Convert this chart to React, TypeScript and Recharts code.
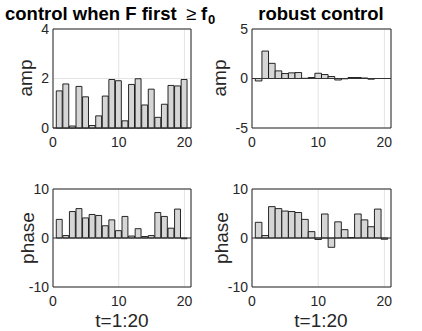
import { ComposedChart, Bar, XAxis, YAxis, CartesianGrid, ReferenceLine, ReferenceArea } from "recharts";

const t = [1, 2, 3, 4, 5, 6, 7, 8, 9, 10, 11, 12, 13, 14, 15, 16, 17, 18, 19, 20];

// control when F first >= f0
const ampFirst = [1.5, 1.78, 0.08, 1.68, 1.26, 0.1, 0.49, 1.29, 1.96, 1.91, 0.29, 1.76, 1.99, 0.93, 1.57, 0.43, 0.96, 1.72, 1.7, 1.96];
const phaseFirst = [3.8, 0.5, 5.4, 6.0, 4.1, 4.8, 4.6, 2.5, 3.7, 1.5, 4.4, 0.4, 1.9, 0.3, 0.5, 5.2, 4.4, 2.0, 5.9, -0.15];

// robust control
const ampRobust = [-0.25, 2.77, 1.53, 0.77, 0.5, 0.57, 0.6, 0.02, 0.1, 0.53, 0.4, 0.2, -0.15, -0.03, 0.1, 0.1, 0.05, -0.07, 0, 0];
const phaseRobust = [3.2, 0.5, 6.4, 6.0, 5.5, 5.4, 5.2, 3.8, 1.3, -0.3, 4.9, -1.9, 3.3, 1.7, 0.1, 4.9, 3.7, 2.3, 5.9, -0.25];

const xTicks = [0, 10, 20];
const ampTicksFirst = [0, 2, 4];
const ampTicksRobust = [-5, 0, 5];
const phaseTicks = [-10, 0, 10];

const FONT = "'Liberation Sans', Arial, Helvetica, sans-serif";
const INK = "#262626";

interface PanelProps {
  values: number[];
  yTicks: number[];
  left: number;
  top: number;
  height: number;
  axisWidth: number;
  right: number;
  bottom: number;
}

function Panel({ values, yTicks, left, top, height, axisWidth, right, bottom }: PanelProps) {
  const rows = t.map((x, i) => ({ t: x, v: values[i] }));
  const lo = yTicks[0];
  const hi = yTicks[yTicks.length - 1];
  return (
    <div style={{ position: "absolute", left, top }}>
      <ComposedChart
        width={211}
        height={height}
        data={rows}
        margin={{ top: 29, right, left: 0, bottom }}
      >
        <CartesianGrid stroke="#e3e3e3" strokeWidth={1} />
        <XAxis
          dataKey="t"
          type="number"
          domain={[0, 21]}
          ticks={xTicks}
          height={20}
          axisLine={false}
          tickLine={false}
          tickSize={0}
          tickMargin={9}
          tick={{ fontSize: 14, fill: INK, fontFamily: FONT }}
        />
        <YAxis
          type="number"
          domain={[lo, hi]}
          ticks={yTicks}
          width={axisWidth}
          axisLine={false}
          tickLine={false}
          tickSize={0}
          tickMargin={4}
          tick={{ fontSize: 14, fill: INK, fontFamily: FONT }}
        />
        <Bar
          dataKey="v"
          barSize={6.6}
          fill="#d6d6d6"
          stroke="#111"
          strokeWidth={0.9}
          isAnimationActive={false}
        />
        <ReferenceLine x1={0} y={0} stroke="#333" strokeWidth={1} />
        <ReferenceArea x1={0} x2={21} y1={lo} y2={hi} fill="none" stroke={INK} strokeWidth={1} />
      </ComposedChart>
    </div>
  );
}

export default function App() {
  return (
    <div style={{ position: "absolute", left: 0, top: 0, width: 422, height: 331, background: "#fff", fontFamily: FONT }}>
      <Panel values={ampFirst} yTicks={ampTicksFirst} left={0} top={0} height={160} axisWidth={53} right={20} bottom={12} />
      <Panel values={ampRobust} yTicks={ampTicksRobust} left={211} top={0} height={160} axisWidth={41} right={31} bottom={12} />
      <Panel values={phaseFirst} yTicks={phaseTicks} left={0} top={160} height={171} axisWidth={53} right={20} bottom={24} />
      <Panel values={phaseRobust} yTicks={phaseTicks} left={211} top={160} height={171} axisWidth={41} right={31} bottom={24} />
      <svg width={422} height={331} style={{ position: "absolute", left: 0, top: 0, pointerEvents: "none" }}>
        <text y={20} fill="#000" fontFamily={FONT} fontSize={18.5} fontWeight="bold">
          <tspan x={5}>control when F first</tspan>
          <tspan x={186} fontWeight="normal">≥</tspan>
          <tspan x={201}>f</tspan>
          <tspan x={208} dy={4} fontSize={13}>0</tspan>
        </text>
        <text x={321} y={20} textAnchor="middle" fill="#000" fontFamily={FONT} fontSize={18.5} fontWeight="bold">
          robust control
        </text>
        <text transform="translate(32,78) rotate(-90)" textAnchor="middle" fill={INK} fontFamily={FONT} fontSize={19}>amp</text>
        <text transform="translate(226,78) rotate(-90)" textAnchor="middle" fill={INK} fontFamily={FONT} fontSize={19}>amp</text>
        <text transform="translate(34,238) rotate(-90)" textAnchor="middle" fill={INK} fontFamily={FONT} fontSize={19}>phase</text>
        <text transform="translate(228,238) rotate(-90)" textAnchor="middle" fill={INK} fontFamily={FONT} fontSize={19}>phase</text>
        <text x={122} y={327} textAnchor="middle" fill={INK} fontFamily={FONT} fontSize={19}>t=1:20</text>
        <text x={321} y={327} textAnchor="middle" fill={INK} fontFamily={FONT} fontSize={19}>t=1:20</text>
      </svg>
    </div>
  );
}
